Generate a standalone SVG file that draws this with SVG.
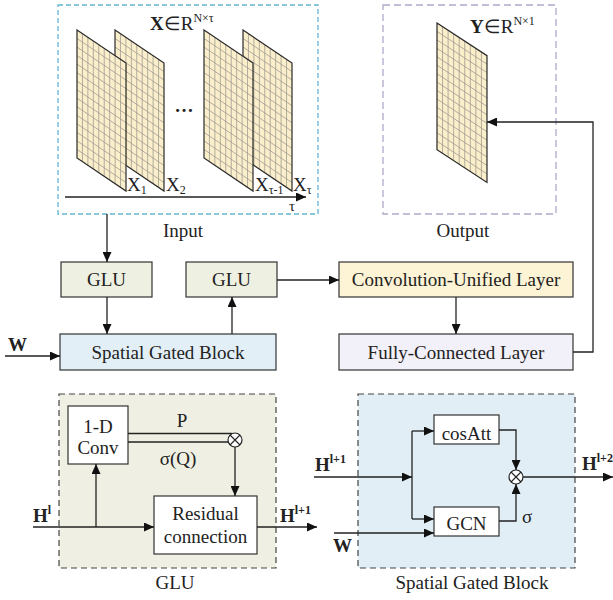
<svg xmlns="http://www.w3.org/2000/svg" xmlns:xlink="http://www.w3.org/1999/xlink" width="613" height="600" viewBox="0 0 613 600">
<style>
text{font-family:"Liberation Serif","Times New Roman",serif;fill:#222;}
.t{font-size:19px;}
.c{text-anchor:middle;}
.b{font-weight:bold;}
.sup{font-size:12px;}
.box{stroke:#333;stroke-width:1.2;}
.ln{stroke:#222;stroke-width:1.3;fill:none;}
.arr{marker-end:url(#ah);}
.grid{stroke:#a09a90;stroke-width:0.8;fill:none;}
.pan{fill:#fbefcb;stroke:none;}
.panE{fill:none;stroke:#2a2a2a;stroke-width:1.2;}
</style>
<defs>
<marker id="ah" markerUnits="userSpaceOnUse" markerWidth="11" markerHeight="9" refX="10" refY="4.5" orient="auto">
<path d="M0,0 L10,4.5 L0,9 z" fill="#111"/>
</marker>
<g id="panel">
<polygon class="pan" points="0,0 49,33 49,161 0,128"/>
<path class="grid" d="M5.44 3.67V131.67M10.89 7.33V135.33M16.33 11V139M21.78 14.67V142.67M27.22 18.33V146.33M32.67 22V150M38.11 25.67V153.67M43.56 29.33V157.33M0 8.53L49 41.53M0 17.07L49 50.07M0 25.6L49 58.6M0 34.13L49 67.13M0 42.67L49 75.67M0 51.2L49 84.2M0 59.73L49 92.73M0 68.27L49 101.27M0 76.8L49 109.8M0 85.33L49 118.33M0 93.87L49 126.87M0 102.4L49 135.4M0 110.93L49 143.93M0 119.47L49 152.47"/>
<polygon class="panE" points="0,0 49,33 49,161 0,128"/>
</g>
</defs>
<rect width="613" height="600" fill="#fff"/>

<g id="input">
<rect x="58" y="5" width="260" height="209" fill="#fff" stroke="#62b5d1" stroke-width="1.3" stroke-dasharray="5,3"/>
<use xlink:href="#panel" href="#panel" transform="translate(115,30)"/>
<use xlink:href="#panel" href="#panel" transform="translate(77,30)"/>
<use xlink:href="#panel" href="#panel" transform="translate(243,30)"/>
<use xlink:href="#panel" href="#panel" transform="translate(204,30)"/>
<text class="t" x="150" y="30"><tspan class="b">X</tspan>∈R<tspan class="sup" dy="-8">N×τ</tspan></text>
<text class="t b c" x="184" y="112">…</text>
<text class="t" x="127" y="191">X<tspan class="sup" dy="3">1</tspan></text>
<text class="t" x="166" y="191">X<tspan class="sup" dy="3">2</tspan></text>
<text class="t" x="255" y="191">X<tspan class="sup" dy="3">τ-1</tspan></text>
<text class="t" x="293" y="191">X<tspan class="sup" dy="3">τ</tspan></text>
<line class="ln arr" x1="65" y1="197" x2="306" y2="197"/>
<text x="289" y="211" style="font-size:15px">τ</text>
<text class="t c" x="183" y="237">Input</text>
</g>

<g id="output">
<rect x="383" y="5" width="173" height="209" fill="#fff" stroke="#b3a6cc" stroke-width="1.3" stroke-dasharray="7,4"/>
<use xlink:href="#panel" href="#panel" transform="translate(437,23) scale(1.02,0.99)"/>
<text class="t" x="470" y="33"><tspan class="b">Y</tspan>∈R<tspan class="sup" dy="-8">N×1</tspan></text>
<text class="t c" x="463" y="237">Output</text>
</g>

<g id="glu1">
<rect class="box" x="61" y="262" width="91" height="35" fill="#eef0e1"/>
<text class="t c" x="106.5" y="286">GLU</text>
</g>
<g id="glu2">
<rect class="box" x="186" y="262" width="91" height="35" fill="#eef0e1"/>
<text class="t c" x="231.5" y="286">GLU</text>
</g>
<g id="sgb">
<rect class="box" x="60" y="334" width="216" height="36" fill="#e2eff7"/>
<text class="t c" x="168" y="359">Spatial Gated Block</text>
</g>
<g id="cul">
<rect class="box" x="339" y="262" width="234" height="35" fill="#fdf3d5"/>
<text class="t c" x="456" y="286">Convolution-Unified Layer</text>
</g>
<g id="fcl">
<rect class="box" x="339" y="334" width="234" height="36" fill="#f2f0f8"/>
<text class="t c" x="456" y="359">Fully-Connected Layer</text>
</g>
<g id="wlabel">
<text class="t b" x="8" y="351">W</text>
</g>

<g id="glu-detail">
<rect x="59" y="394" width="217" height="174" fill="#eff0e3" stroke="#444" stroke-width="1.2" stroke-dasharray="6,4"/>
<rect class="box" x="68" y="406" width="60" height="58" fill="#fff"/>
<text class="t c" x="98" y="433">1-D</text>
<text class="t c" x="98" y="454">Conv</text>
<rect class="box" x="154" y="496" width="103" height="58" fill="#fff"/>
<text class="t c" x="205.5" y="520">Residual</text>
<text class="t c" x="205.5" y="543">connection</text>
<text class="t c" x="182" y="427">P</text>
<text class="t c" x="178" y="465">σ(Q)</text>
<circle cx="235" cy="440" r="7" fill="#fff" stroke="#222" stroke-width="1.2"/>
<path d="M230 435L240 445M240 435L230 445" stroke="#222" stroke-width="1.1"/>
<text class="t" x="33" y="522"><tspan class="b">H</tspan><tspan class="sup b" dy="-8">l</tspan></text>
<text class="t" x="280" y="522"><tspan class="b">H</tspan><tspan class="sup b" dy="-8">l+1</tspan></text>
<text class="t c" x="175" y="589">GLU</text>
</g>

<g id="sgb-detail">
<rect x="358" y="394" width="217" height="174" fill="#e1eef6" stroke="#444" stroke-width="1.2" stroke-dasharray="6,4"/>
<rect class="box" x="434" y="415" width="65" height="29" fill="#fff"/>
<text class="t c" x="466.5" y="440">cosAtt</text>
<rect class="box" x="434" y="507" width="65" height="29" fill="#fff"/>
<text class="t c" x="466.5" y="530">GCN</text>
<circle cx="516" cy="477" r="7" fill="#fff" stroke="#222" stroke-width="1.2"/>
<path d="M511 472L521 482M521 472L511 482" stroke="#222" stroke-width="1.1"/>
<text class="t" x="522" y="523">σ</text>
<text class="t" x="315" y="471"><tspan class="b">H</tspan><tspan class="sup b" dy="-8">l+1</tspan></text>
<text class="t b" x="333" y="552">W</text>
<text class="t" x="582" y="470"><tspan class="b">H</tspan><tspan class="sup b" dy="-8">l+2</tspan></text>
<text class="t c" x="472" y="589">Spatial Gated Block</text>
</g>

<g id="connectors">
<line class="ln arr" x1="107" y1="214" x2="107" y2="262"/>
<line class="ln arr" x1="107" y1="297" x2="107" y2="334"/>
<line class="ln arr" x1="232" y1="334" x2="232" y2="297"/>
<line class="ln arr" x1="277" y1="280" x2="339" y2="280"/>
<line class="ln arr" x1="456" y1="297" x2="456" y2="334"/>
<path class="ln arr" d="M573 352H593V122H487"/>
<line class="ln arr" x1="5" y1="356" x2="60" y2="356"/>
<line class="ln arr" x1="33" y1="527" x2="154" y2="527"/>
<line class="ln arr" x1="96" y1="527" x2="96" y2="464"/>
<line class="ln" x1="128" y1="433.5" x2="232" y2="433.5"/>
<line class="ln" x1="128" y1="442" x2="228" y2="442"/>
<line class="ln arr" x1="235" y1="447" x2="235" y2="496"/>
<line class="ln arr" x1="257" y1="527" x2="317" y2="527"/>
<line class="ln arr" x1="314" y1="477" x2="412" y2="477"/>
<line class="ln" x1="412" y1="431" x2="412" y2="519"/>
<line class="ln arr" x1="412" y1="431" x2="434" y2="431"/>
<line class="ln arr" x1="412" y1="519" x2="434" y2="519"/>
<line class="ln arr" x1="334" y1="533" x2="434" y2="533"/>
<path class="ln arr" d="M499 430H516V470"/>
<path class="ln arr" d="M499 521H516V484"/>
<line class="ln arr" x1="523" y1="477" x2="613" y2="477"/>
</g>
</svg>
